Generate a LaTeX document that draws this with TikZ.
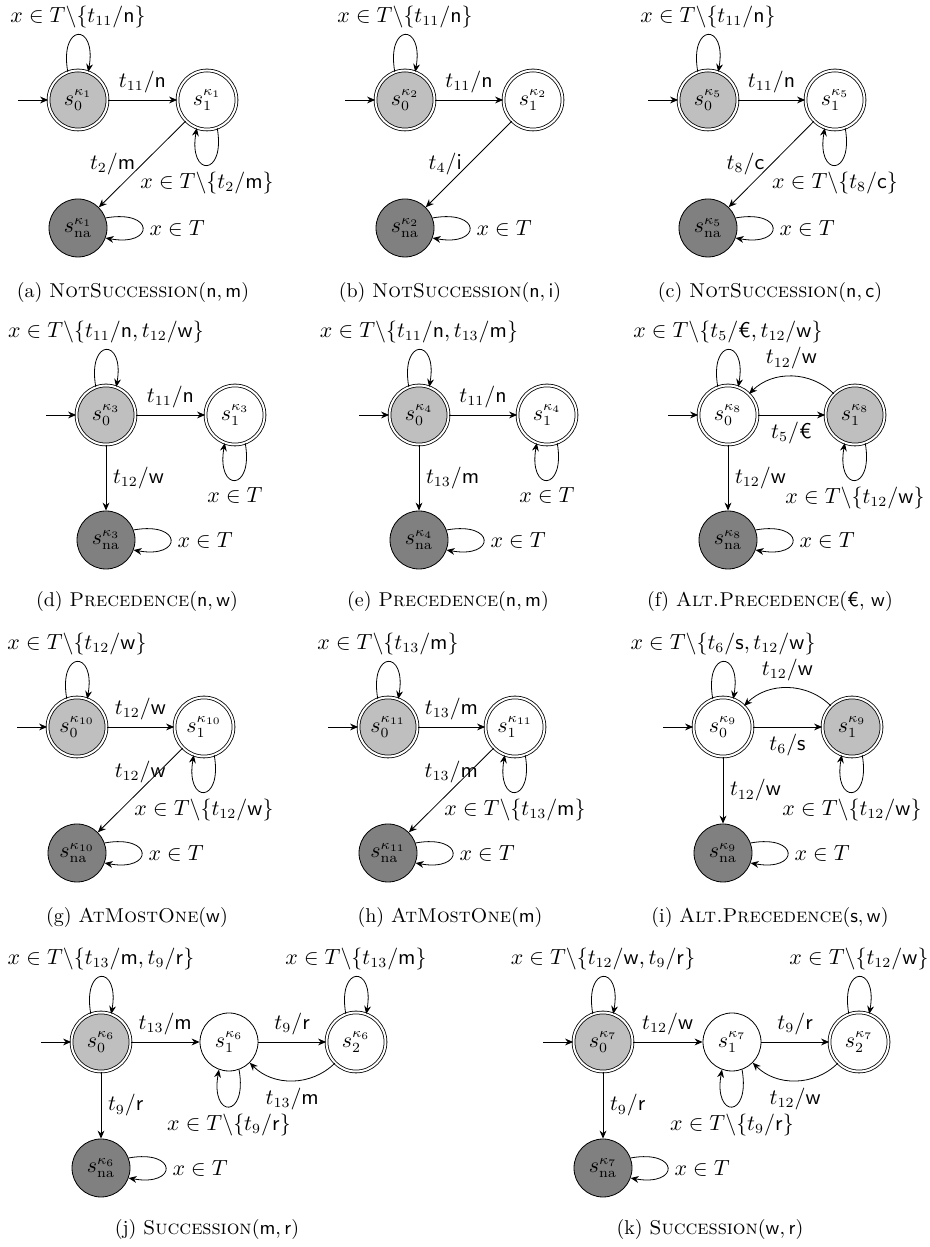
\documentclass[tikz,border=0pt]{standalone}
\usepackage{amsmath,amssymb}
\usepackage{tikz}
\usetikzlibrary{arrows.meta,automata}

\begin{document}
\begin{tikzpicture}[
    x=0.5pt, y=0.5pt,
    >={Stealth[length=4pt,width=3.4pt]},
    every node/.style={font=\fontsize{10.6}{12.7}\selectfont},
    stbase/.style={circle, draw, minimum size=29pt, inner sep=0pt},
    accgray/.style={stbase, double, double distance=1pt, minimum size=29.5pt, fill=lightgray},
    accwhite/.style={stbase, double, double distance=1pt, minimum size=29.5pt, fill=white},
    nonacc/.style={stbase, fill=white},
    sink/.style={stbase, fill=gray},
    entry/.style={initial, initial text={}, initial distance=15pt},
    subcap/.style={font=\normalsize}
]
\useasboundingbox (0,0) rectangle (930,1247);

% (a) NotSuccession(n,m)
\node[accgray, entry] (a0) at (78,1147) {$s_0^{\kappa_1}$};
\node[accwhite] (a1) at (207,1147) {$s_1^{\kappa_1}$};
\node[sink] (ana) at (78,1019) {$s_{\mathrm{na}}^{\kappa_1}$};
\draw[->] (a0) -- node[above] {$t_{11}/\mathsf{n}$} (a1);
\draw[->] (a1) -- node[left] {$t_2/\mathsf{m}$} (ana);
\draw[->] (a0.110) .. controls +(100:25pt) and +(80:25pt) .. (a0.70) node[pos=0.5, above] {$x \in T\backslash\{t_{11}/\mathsf{n}\}$};
\draw[->] (a1.290) .. controls +(280:25pt) and +(260:25pt) .. (a1.250) node[pos=0.5, below] {$x \in T\backslash\{t_2/\mathsf{m}\}$};
\draw[->] (ana.20) .. controls +(10:25pt) and +(-10:25pt) .. (ana.-20) node[pos=0.5, right] {$x \in T$};
\node[subcap] (acap) at (133,954) {(a) \textsc{NotSuccession}($\mathsf{n},\mathsf{m}$)};

% (b) NotSuccession(n,i)
\node[accgray, entry] (b0) at (405,1147) {$s_0^{\kappa_2}$};
\node[accwhite] (b1) at (533,1147) {$s_1^{\kappa_2}$};
\node[sink] (bna) at (405,1019) {$s_{\mathrm{na}}^{\kappa_2}$};
\draw[->] (b0) -- node[above] {$t_{11}/\mathsf{n}$} (b1);
\draw[->] (b1) -- node[left] {$t_4/\mathsf{i}$} (bna);
\draw[->] (b0.110) .. controls +(100:25pt) and +(80:25pt) .. (b0.70) node[pos=0.5, above] {$x \in T\backslash\{t_{11}/\mathsf{n}\}$};
\draw[->] (bna.20) .. controls +(10:25pt) and +(-10:25pt) .. (bna.-20) node[pos=0.5, right] {$x \in T$};
\node[subcap] (bcap) at (450,954) {(b) \textsc{NotSuccession}($\mathsf{n},\mathsf{i}$)};

% (c) NotSuccession(n,c)
\node[accgray, entry] (c0) at (708,1147) {$s_0^{\kappa_5}$};
\node[accwhite] (c1) at (835,1147) {$s_1^{\kappa_5}$};
\node[sink] (cna) at (708,1019) {$s_{\mathrm{na}}^{\kappa_5}$};
\draw[->] (c0) -- node[above] {$t_{11}/\mathsf{n}$} (c1);
\draw[->] (c1) -- node[left] {$t_8/\mathsf{c}$} (cna);
\draw[->] (c0.110) .. controls +(100:25pt) and +(80:25pt) .. (c0.70) node[pos=0.5, above] {$x \in T\backslash\{t_{11}/\mathsf{n}\}$};
\draw[->] (c1.290) .. controls +(280:25pt) and +(260:25pt) .. (c1.250) node[pos=0.5, below] {$x \in T\backslash\{t_8/\mathsf{c}\}$};
\draw[->] (cna.20) .. controls +(10:25pt) and +(-10:25pt) .. (cna.-20) node[pos=0.5, right] {$x \in T$};
\node[subcap] (ccap) at (770,954) {(c) \textsc{NotSuccession}($\mathsf{n},\mathsf{c}$)};

% (d) Precedence(n,w)
\node[accgray, entry] (d0) at (106,832) {$s_0^{\kappa_3}$};
\node[accwhite] (d1) at (235,832) {$s_1^{\kappa_3}$};
\node[sink] (dna) at (106,707) {$s_{\mathrm{na}}^{\kappa_3}$};
\draw[->] (d0) -- node[above] {$t_{11}/\mathsf{n}$} (d1);
\draw[->] (d0) -- node[right] {$t_{12}/\mathsf{w}$} (dna);
\draw[->] (d0.110) .. controls +(100:25pt) and +(80:25pt) .. (d0.70) node[pos=0.5, above] {$x \in T\backslash\{t_{11}/\mathsf{n}, t_{12}/\mathsf{w}\}$};
\draw[->] (d1.290) .. controls +(280:25pt) and +(260:25pt) .. (d1.250) node[pos=0.5, below] {$x \in T$};
\draw[->] (dna.20) .. controls +(10:25pt) and +(-10:25pt) .. (dna.-20) node[pos=0.5, right] {$x \in T$};
\node[subcap] (dcap) at (137,645) {(d) \textsc{Precedence}($\mathsf{n},\mathsf{w}$)};

% (e) Precedence(n,m)
\node[accgray, entry] (e0) at (419,832) {$s_0^{\kappa_4}$};
\node[accwhite] (e1) at (547,832) {$s_1^{\kappa_4}$};
\node[sink] (ena) at (419,707) {$s_{\mathrm{na}}^{\kappa_4}$};
\draw[->] (e0) -- node[above] {$t_{11}/\mathsf{n}$} (e1);
\draw[->] (e0) -- node[right] {$t_{13}/\mathsf{m}$} (ena);
\draw[->] (e0.110) .. controls +(100:25pt) and +(80:25pt) .. (e0.70) node[pos=0.5, above] {$x \in T\backslash\{t_{11}/\mathsf{n}, t_{13}/\mathsf{m}\}$};
\draw[->] (e1.290) .. controls +(280:25pt) and +(260:25pt) .. (e1.250) node[pos=0.5, below] {$x \in T$};
\draw[->] (ena.20) .. controls +(10:25pt) and +(-10:25pt) .. (ena.-20) node[pos=0.5, right] {$x \in T$};
\node[subcap] (ecap) at (448,645) {(e) \textsc{Precedence}($\mathsf{n},\mathsf{m}$)};

% (f) Alt.Precedence(euro,w)
\node[accwhite, entry] (f0) at (728,832) {$s_0^{\kappa_8}$};
\node[accgray] (f1) at (855,832) {$s_1^{\kappa_8}$};
\node[sink] (fna) at (728,707) {$s_{\mathrm{na}}^{\kappa_8}$};
\draw[->] (f0) -- node[below] {$t_5/\text{\textsf{€}}$} (f1);
\draw[->] (f1) to[bend right=45] node[above] {$t_{12}/\mathsf{w}$} (f0);
\draw[->] (f0) -- node[right] {$t_{12}/\mathsf{w}$} (fna);
\draw[->] (f0.110) .. controls +(100:25pt) and +(80:25pt) .. (f0.70) node[pos=0.5, above] {$x \in T\backslash\{t_5/\text{\textsf{€}}, t_{12}/\mathsf{w}\}$};
\draw[->] (f1.290) .. controls +(280:25pt) and +(260:25pt) .. (f1.250) node[pos=0.5, below] {$x \in T\backslash\{t_{12}/\mathsf{w}\}$};
\draw[->] (fna.20) .. controls +(10:25pt) and +(-10:25pt) .. (fna.-20) node[pos=0.5, right] {$x \in T$};
\node[subcap] (fcap) at (770,645) {(f) \textsc{Alt.Precedence}(\textsf{€}, $\mathsf{w}$)};

% (g) AtMostOne(w)
\node[accgray, entry] (g0) at (77,520) {$s_0^{\kappa_{10}}$};
\node[accwhite] (g1) at (204,520) {$s_1^{\kappa_{10}}$};
\node[sink] (gna) at (77,394) {$s_{\mathrm{na}}^{\kappa_{10}}$};
\draw[->] (g0) -- node[above] {$t_{12}/\mathsf{w}$} (g1);
\draw[->] (g1) -- node[above] {$t_{12}/\mathsf{w}$} (gna);
\draw[->] (g0.110) .. controls +(100:25pt) and +(80:25pt) .. (g0.70) node[pos=0.5, above] {$x \in T\backslash\{t_{12}/\mathsf{w}\}$};
\draw[->] (g1.290) .. controls +(280:25pt) and +(260:25pt) .. (g1.250) node[pos=0.5, below] {$x \in T\backslash\{t_{12}/\mathsf{w}\}$};
\draw[->] (gna.20) .. controls +(10:25pt) and +(-10:25pt) .. (gna.-20) node[pos=0.5, right] {$x \in T$};
\node[subcap] (gcap) at (137,329) {(g) \textsc{AtMostOne}($\mathsf{w}$)};

% (h) AtMostOne(m)
\node[accgray, entry] (h0) at (388,520) {$s_0^{\kappa_{11}}$};
\node[accwhite] (h1) at (515,520) {$s_1^{\kappa_{11}}$};
\node[sink] (hna) at (388,394) {$s_{\mathrm{na}}^{\kappa_{11}}$};
\draw[->] (h0) -- node[above] {$t_{13}/\mathsf{m}$} (h1);
\draw[->] (h1) -- node[above] {$t_{13}/\mathsf{m}$} (hna);
\draw[->] (h0.110) .. controls +(100:25pt) and +(80:25pt) .. (h0.70) node[pos=0.5, above] {$x \in T\backslash\{t_{13}/\mathsf{m}\}$};
\draw[->] (h1.290) .. controls +(280:25pt) and +(260:25pt) .. (h1.250) node[pos=0.5, below] {$x \in T\backslash\{t_{13}/\mathsf{m}\}$};
\draw[->] (hna.20) .. controls +(10:25pt) and +(-10:25pt) .. (hna.-20) node[pos=0.5, right] {$x \in T$};
\node[subcap] (hcap) at (450,329) {(h) \textsc{AtMostOne}($\mathsf{m}$)};

% (i) Alt.Precedence(s,w)
\node[accwhite, entry] (i0) at (723,520) {$s_0^{\kappa_9}$};
\node[accgray] (i1) at (852,520) {$s_1^{\kappa_9}$};
\node[sink] (ina) at (723,394) {$s_{\mathrm{na}}^{\kappa_9}$};
\draw[->] (i0) -- node[below] {$t_6/\mathsf{s}$} (i1);
\draw[->] (i1) to[bend right=45] node[above] {$t_{12}/\mathsf{w}$} (i0);
\draw[->] (i0) -- node[right] {$t_{12}/\mathsf{w}$} (ina);
\draw[->] (i0.110) .. controls +(100:25pt) and +(80:25pt) .. (i0.70) node[pos=0.5, above] {$x \in T\backslash\{t_6/\mathsf{s}, t_{12}/\mathsf{w}\}$};
\draw[->] (i1.290) .. controls +(280:25pt) and +(260:25pt) .. (i1.250) node[pos=0.5, below] {$x \in T\backslash\{t_{12}/\mathsf{w}\}$};
\draw[->] (ina.20) .. controls +(10:25pt) and +(-10:25pt) .. (ina.-20) node[pos=0.5, right] {$x \in T$};
\node[subcap] (icap) at (770,329) {(i) \textsc{Alt.Precedence}($\mathsf{s},\mathsf{w}$)};

% (j) Succession(m,r)
\node[accgray, entry] (j0) at (101,205) {$s_0^{\kappa_6}$};
\node[nonacc] (j1) at (229,205) {$s_1^{\kappa_6}$};
\node[accwhite] (j2) at (356,205) {$s_2^{\kappa_6}$};
\node[sink] (jna) at (101,79) {$s_{\mathrm{na}}^{\kappa_6}$};
\draw[->] (j0) -- node[above] {$t_{13}/\mathsf{m}$} (j1);
\draw[->] (j1) -- node[above] {$t_9/\mathsf{r}$} (j2);
\draw[->] (j2) to[bend left=45] node[below] {$t_{13}/\mathsf{m}$} (j1);
\draw[->] (j0) -- node[right] {$t_9/\mathsf{r}$} (jna);
\draw[->] (j0.110) .. controls +(100:25pt) and +(80:25pt) .. (j0.70) node[pos=0.5, above] {$x \in T\backslash\{t_{13}/\mathsf{m}, t_9/\mathsf{r}\}$};
\draw[->] (j2.110) .. controls +(100:25pt) and +(80:25pt) .. (j2.70) node[pos=0.5, above] {$x \in T\backslash\{t_{13}/\mathsf{m}\}$};
\draw[->] (j1.290) .. controls +(280:25pt) and +(260:25pt) .. (j1.250) node[pos=0.5, below] {$x \in T\backslash\{t_9/\mathsf{r}\}$};
\draw[->] (jna.20) .. controls +(10:25pt) and +(-10:25pt) .. (jna.-20) node[pos=0.5, right] {$x \in T$};
\node[subcap] (jcap) at (207,17) {(j) \textsc{Succession}($\mathsf{m},\mathsf{r}$)};

% (k) Succession(w,r)
\node[accgray, entry] (k0) at (603,205) {$s_0^{\kappa_7}$};
\node[nonacc] (k1) at (732,205) {$s_1^{\kappa_7}$};
\node[accwhite] (k2) at (859,205) {$s_2^{\kappa_7}$};
\node[sink] (kna) at (603,79) {$s_{\mathrm{na}}^{\kappa_7}$};
\draw[->] (k0) -- node[above] {$t_{12}/\mathsf{w}$} (k1);
\draw[->] (k1) -- node[above] {$t_9/\mathsf{r}$} (k2);
\draw[->] (k2) to[bend left=45] node[below] {$t_{12}/\mathsf{w}$} (k1);
\draw[->] (k0) -- node[right] {$t_9/\mathsf{r}$} (kna);
\draw[->] (k0.110) .. controls +(100:25pt) and +(80:25pt) .. (k0.70) node[pos=0.5, above] {$x \in T\backslash\{t_{12}/\mathsf{w}, t_9/\mathsf{r}\}$};
\draw[->] (k2.110) .. controls +(100:25pt) and +(80:25pt) .. (k2.70) node[pos=0.5, above] {$x \in T\backslash\{t_{12}/\mathsf{w}\}$};
\draw[->] (k1.290) .. controls +(280:25pt) and +(260:25pt) .. (k1.250) node[pos=0.5, below] {$x \in T\backslash\{t_9/\mathsf{r}\}$};
\draw[->] (kna.20) .. controls +(10:25pt) and +(-10:25pt) .. (kna.-20) node[pos=0.5, right] {$x \in T$};
\node[subcap] (kcap) at (710,17) {(k) \textsc{Succession}($\mathsf{w},\mathsf{r}$)};

\end{tikzpicture}
\end{document}
